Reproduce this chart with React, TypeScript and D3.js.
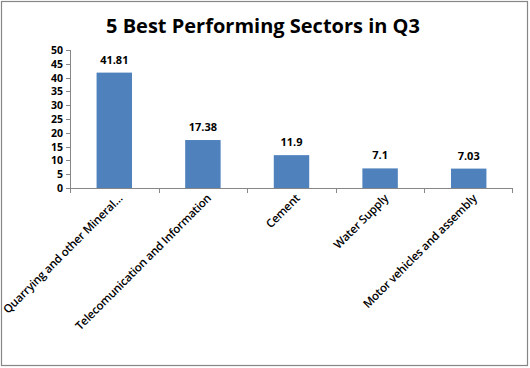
import React from "react";
import * as d3 from "d3";

const categories = [
  "Quarrying and other Mineral…",
  "Telecomunication  and Information",
  "Cement",
  "Water Supply",
  "Motor vehicles  and assembly",
];
const values = [41.81, 17.38, 11.9, 7.1, 7.03];
const valueLabels = ["41.81", "17.38", "11.9", "7.1", "7.03"];
const yTicks = [0, 5, 10, 15, 20, 25, 30, 35, 40, 45, 50];

const W = 530;
const H = 368;
const font = "'Open Sans', 'Noto Sans', sans-serif";

const App: React.FC = () => {
  const x = d3.scaleBand<string>().domain(categories).range([70, 513]).paddingInner(0.6).paddingOuter(0.3);
  const band = d3.scaleBand<string>().domain(categories).range([70, 513]);
  const y = d3.scaleLinear().domain([0, 50]).range([188, 50]);

  return (
    <div style={{ position: "absolute", left: 0, top: 0 }}>
      <svg width={W} height={H} style={{ display: "block" }}>
        <rect x={1.5} y={1.5} width={526} height={364} fill="#fff" stroke="#868686" strokeWidth={1.2} />
        <text x={263} y={33} textAnchor="middle" fontFamily={font} fontWeight="bold" fontSize={20} fill="#000">
          5 Best Performing Sectors in Q3
        </text>

        {/* y axis */}
        <line x1={70.5} x2={70.5} y1={y(50)} y2={y(0)} stroke="#868686" />
        {yTicks.map((t) => (
          <g key={t}>
            <line x1={66} x2={70.5} y1={Math.round(y(t)) + 0.5} y2={Math.round(y(t)) + 0.5} stroke="#868686" />
            <text x={63} y={y(t) + 4} textAnchor="end" fontFamily={font} fontWeight="bold" fontSize={10.5} fill="#000">
              {t}
            </text>
          </g>
        ))}

        {/* bars */}
        {categories.map((c, i) => (
          <rect key={c} x={x(c)} y={y(values[i])} width={x.bandwidth()} height={y(0) - y(values[i])} fill="#4f81bd" />
        ))}

        {/* x axis */}
        <line x1={70} x2={513} y1={188.5} y2={188.5} stroke="#868686" />
        {categories.map((c, i) => (
          <line key={"t" + i} x1={Math.round(band(c)!) + 0.5} x2={Math.round(band(c)!) + 0.5} y1={188.5} y2={193} stroke="#868686" />
        ))}
        <line x1={512.5} x2={512.5} y1={188.5} y2={193} stroke="#868686" />

        {/* value labels */}
        {categories.map((c, i) => (
          <text key={"v" + i} x={x(c)! + x.bandwidth() / 2} y={y(values[i]) - 9} textAnchor="middle" fontFamily={font} fontWeight="bold" fontSize={11} fill="#000">
            {valueLabels[i]}
          </text>
        ))}

        {/* category labels */}
        {categories.map((c, i) => {
          const cx = band(c)! + band.bandwidth() / 2 + 9;
          return (
            <text key={"c" + i} transform={`translate(${cx},${199}) rotate(-45)`} textAnchor="end" fontFamily={font} fontWeight="600" fontSize={11.5} letterSpacing={-0.2} fill="#000">
              {c}
            </text>
          );
        })}
      </svg>
    </div>
  );
};

export default App;
